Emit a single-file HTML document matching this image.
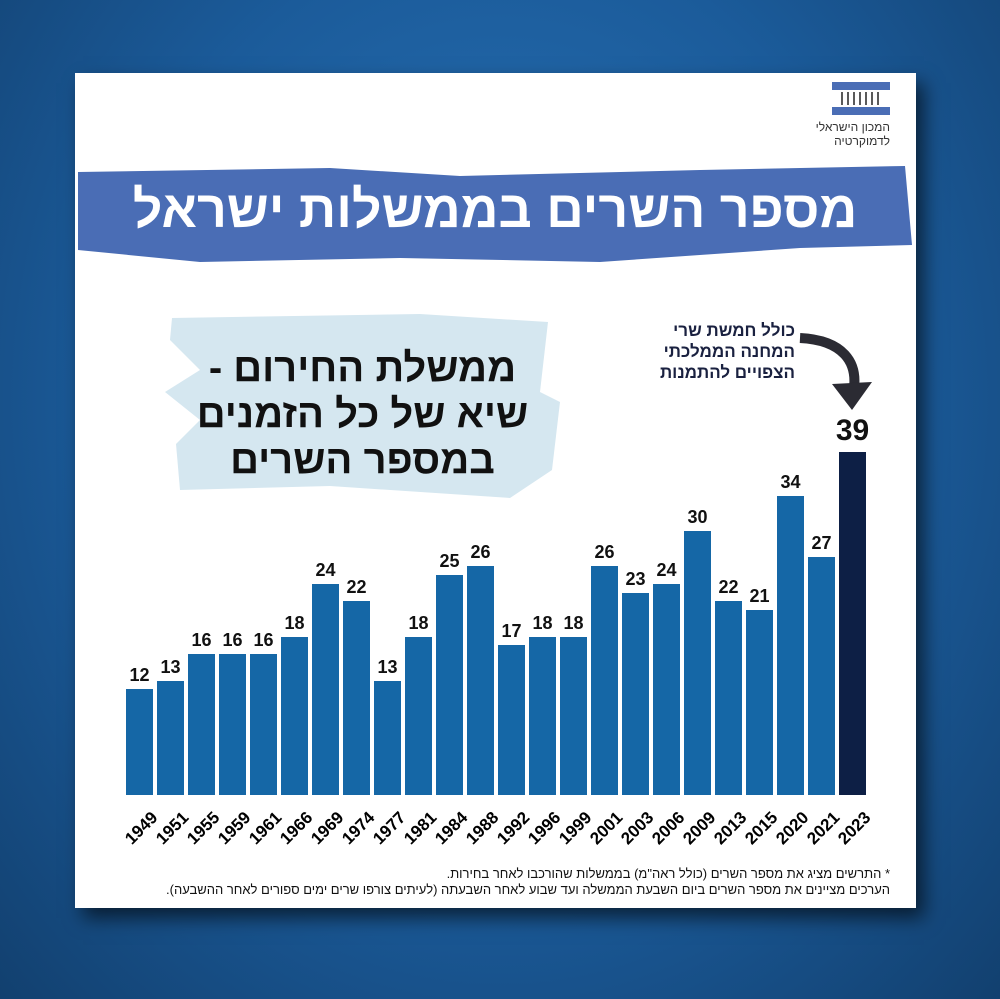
<!DOCTYPE html>
<html><head><meta charset="utf-8"><style>
body{margin:0;width:1000px;height:999px;overflow:hidden;background:radial-gradient(ellipse at 50% 40%,#2a74b8 0%,#1b5b9a 55%,#12406f 100%);font-family:"Liberation Sans","Noto Sans CJK SC",sans-serif;position:relative}
.card{position:absolute;left:75px;top:73px;width:841px;height:835px;background:#fff;box-shadow:8px 10px 18px rgba(0,0,0,.6)}
.abs{position:absolute}
.bar{position:absolute;width:27px;background:#1567a6}
.val{position:absolute;width:40px;text-align:center;font-weight:bold;font-size:18px;color:#111}
.yr{position:absolute;font-weight:bold;font-size:17px;color:#000;transform:rotate(-45deg);transform-origin:right top;white-space:nowrap}
</style></head><body>
<div class="card"></div>
<svg class="abs" style="left:0;top:0" width="1000" height="999">
<path d="M78 172 L330 168 L460 176 L700 170 L905 166 L912 245 L800 248 L600 262 L400 258 L200 262 L78 250Z" fill="#4a6db5"/>
<path d="M172 318 L420 314 L548 322 L540 392 L560 402 L552 470 L510 498 L330 486 L180 490 L176 444 L200 420 L165 392 L200 370 L170 340Z" fill="#d5e7f0"/>
<rect x="832" y="82" width="58" height="8" fill="#4a6db5"/>
<rect x="832" y="107" width="58" height="8" fill="#4a6db5"/>
<g stroke="#222" stroke-width="1.5"><line x1="842" y1="92" x2="842" y2="105"/><line x1="848" y1="92" x2="848" y2="105"/><line x1="854" y1="92" x2="854" y2="105"/><line x1="860" y1="92" x2="860" y2="105"/><line x1="866" y1="92" x2="866" y2="105"/><line x1="872" y1="92" x2="872" y2="105"/><line x1="878" y1="92" x2="878" y2="105"/></g>
<path d="M800 338 C840 340 862 360 852 398" stroke="#2b2b33" stroke-width="10" fill="none"/>
<path d="M832 384 L872 382 L852 410Z" fill="#2b2b33"/>
</svg>
<div class="abs" style="left:800px;top:120px;width:90px;text-align:right;font-size:12px;line-height:14px;color:#333" dir="rtl">המכון הישראלי<br>לדמוקרטיה</div>
<div class="abs" style="left:80px;top:180px;width:830px;text-align:center;font-size:52px;font-weight:bold;color:#fff" dir="rtl">מספר השרים בממשלות ישראל</div>
<div class="abs" style="left:175px;top:345px;width:375px;text-align:center;font-size:40px;line-height:46px;font-weight:bold;color:#111" dir="rtl">ממשלת החירום -<br>שיא של כל הזמנים<br>במספר השרים</div>
<div class="abs" style="left:600px;top:320px;width:195px;text-align:right;font-size:17px;line-height:21px;font-weight:bold;color:#1a2140" dir="rtl">כולל חמשת שרי<br>המחנה הממלכתי<br>הצפויים להתמנות</div>
<div id="bars"></div>
<div class="abs" style="left:100px;top:866px;width:790px;text-align:right;font-size:13px;line-height:16px;color:#111" dir="rtl">* התרשים מציג את מספר השרים (כולל ראה"מ) בממשלות שהורכבו לאחר בחירות.<br>הערכים מציינים את מספר השרים ביום השבעת הממשלה ועד שבוע לאחר השבעתה (לעיתים צורפו שרים ימים ספורים לאחר ההשבעה).</div>
<script>
var y=[1949,1951,1955,1959,1961,1966,1969,1974,1977,1981,1984,1988,1992,1996,1999,2001,2003,2006,2009,2013,2015,2020,2021,2023];
var v=[12,13,16,16,16,18,24,22,13,18,25,26,17,18,18,26,23,24,30,22,21,34,27,39];
var h='';var n=v.length;var step=(839-126)/(n-1);
for(var i=0;i<n;i++){var x=126+i*step,hh=v[i]*8.8,last=i==n-1;
h+='<div class="bar" style="left:'+x+'px;top:'+(795-hh)+'px;height:'+hh+'px;'+(last?'background:#0d1f45;':'')+'"></div>';
h+='<div class="val" style="left:'+(x-6.5)+'px;top:'+(795-hh-(last?38:24))+'px;'+(last?'font-size:30px;':'')+'">'+v[i]+'</div>';
h+='<div class="yr" style="left:'+(x-22)+'px;top:'+808+'px;width:44px;text-align:right">'+y[i]+'</div>';}
document.getElementById('bars').innerHTML=h;
</script>
</body></html>
